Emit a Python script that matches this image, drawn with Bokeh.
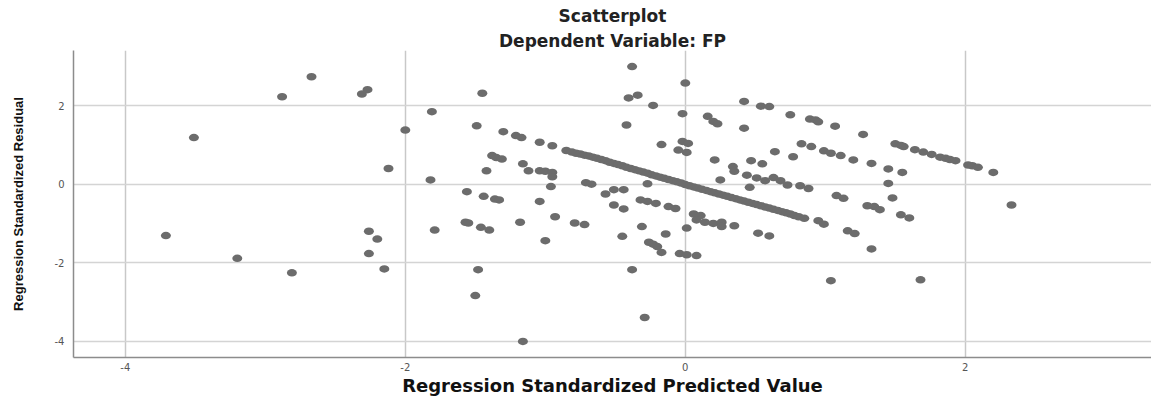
from bokeh.plotting import figure
from bokeh.models import Range1d, FixedTicker, Title, ColumnDataSource
from bokeh.embed import file_html
from bokeh.resources import INLINE

# ---- data ----
title_main = "Scatterplot"
title_sub = "Dependent Variable: FP"
x_label = "Regression Standardized Predicted Value"
y_label = "Regression Standardized Residual"
x_ticks = [-4, -2, 0, 2]
y_ticks = [-4, -2, 0, 2]
x_tick_labels = ["-4", "-2", "0", "2"]
y_tick_labels = ["-4", "-2", "0", "2"]

# far-left sparse points
left_x = [-3.51, -3.71, -2.88, -2.67, -2.31, -2.27, -2.12, -3.20, -2.81, -2.26, -2.20, -2.26, -2.15]
left_y = [1.19, -1.31, 2.23, 2.74, 2.30, 2.41, 0.40, -1.89, -2.26, -1.20, -1.40, -1.77, -2.16]

# main dense diagonal band
band_x = [-0.85, -0.81, -0.78, -0.75, -0.72, -0.69, -0.66, -0.63, -0.60, -0.57, -0.54, -0.51,
          -0.48, -0.45, -0.42, -0.39, -0.36, -0.33, -0.30, -0.27, -0.24, -0.21, -0.18, -0.15,
          -0.12, -0.09, -0.06, -0.03, 0.00, 0.03, 0.06, 0.09, 0.12, 0.15, 0.18, 0.21, 0.24,
          0.27, 0.30, 0.33, 0.36, 0.39, 0.42, 0.45, 0.48, 0.51, 0.54, 0.57, 0.60, 0.63, 0.66,
          0.69, 0.72, 0.75, 0.78, 0.81, 0.85]
band_y = [0.86, 0.82, 0.79, 0.77, 0.74, 0.72, 0.69, 0.66, 0.63, 0.60, 0.56, 0.53,
          0.50, 0.47, 0.43, 0.40, 0.37, 0.34, 0.31, 0.28, 0.24, 0.21, 0.18, 0.15,
          0.12, 0.09, 0.06, 0.03, -0.01, -0.04, -0.07, -0.10, -0.13, -0.16, -0.19, -0.22, -0.25,
          -0.28, -0.31, -0.34, -0.37, -0.40, -0.43, -0.46, -0.49, -0.52, -0.55, -0.58, -0.61, -0.64, -0.67,
          -0.70, -0.73, -0.76, -0.80, -0.83, -0.87]

# upper-right diagonal line
upper_x = [0.42, 0.54, 0.60, 0.75, 0.89, 0.93, 0.95, 1.07, 1.27, 1.50, 1.54, 1.56, 1.64, 1.70,
           1.76, 1.82, 1.86, 1.89, 1.93, 2.02, 2.05, 2.09, 2.20]
upper_y = [2.11, 1.99, 1.98, 1.77, 1.66, 1.64, 1.59, 1.48, 1.27, 1.03, 0.99, 0.96, 0.88, 0.82,
           0.76, 0.69, 0.66, 0.63, 0.60, 0.49, 0.47, 0.43, 0.30]

# right-hand points
right_x = [0.83, 0.90, 0.99, 1.04, 1.11, 1.20, 1.33, 1.45, 1.55, 0.77, 0.64, 0.47, 0.55, 0.34,
           0.35, 0.44, 0.51, 0.57, 0.63, 0.68, 0.73, 0.82, 0.88, 0.25, 0.21, 0.46, 1.45, 1.08,
           1.13, 1.48, 1.30, 1.35, 1.39, 1.54, 1.60, 0.95, 0.99, 1.16, 1.21, 0.52, 0.60, 1.33,
           1.04, 1.68, 2.33]
right_y = [1.03, 0.96, 0.85, 0.79, 0.73, 0.62, 0.53, 0.39, 0.30, 0.70, 0.83, 0.60, 0.52, 0.45,
           0.33, 0.23, 0.16, 0.09, 0.17, 0.09, -0.02, -0.04, -0.11, 0.11, 0.62, -0.08, 0.02, -0.29,
           -0.36, -0.35, -0.55, -0.57, -0.65, -0.78, -0.86, -0.93, -1.02, -1.19, -1.26, -1.25, -1.32, -1.65,
           -2.46, -2.44, -0.53]

# top-centre points
top_x = [-0.38, 0.00, -0.405, -0.34, -0.23, -0.02, 0.16, 0.20, 0.23, 0.42, -0.42, -0.17, -0.02,
         0.02, -0.05, 0.01]
top_y = [3.00, 2.58, 2.20, 2.27, 2.01, 1.80, 1.73, 1.60, 1.54, 1.43, 1.51, 1.01, 1.09,
         1.04, 0.87, 0.81]

# centre-left points
mid_x = [-1.45, -1.81, -2.00, -1.49, -1.30, -1.21, -1.17, -1.04, -0.95, -1.38, -1.35, -1.31,
         -1.42, -1.16, -1.12, -1.04, -1.00, -0.95, -0.95, -1.82, -0.96, -0.71, -0.67, -1.56,
         -0.27, -0.51, -0.44, -0.57]
mid_y = [2.32, 1.85, 1.38, 1.49, 1.34, 1.24, 1.19, 1.07, 0.98, 0.73, 0.68, 0.64,
         0.34, 0.52, 0.34, 0.34, 0.33, 0.30, 0.19, 0.11, -0.06, 0.04, 0.00, -0.19,
         0.01, -0.14, -0.14, -0.25]

# lower points
low_x = [-0.32, -0.27, -0.21, -0.12, -0.07, -0.51, -0.44, 0.06, 0.11, 0.08, 0.14, 0.20, 0.26,
         0.26, 0.35, -0.31, -0.45, -0.14, 0.01, -0.26, -0.23, -0.20, -0.17, -0.04, 0.01, 0.08,
         -0.38, -1.44, -1.36, -1.33, -1.04, -1.57, -1.55, -1.46, -1.40, -1.79, -1.18, -0.93,
         -0.79, -0.72, -1.00, -1.48, -1.50, -1.16, -0.29]
low_y = [-0.40, -0.44, -0.49, -0.57, -0.62, -0.53, -0.63, -0.76, -0.80, -0.91, -0.97, -1.00, -0.97,
         -1.08, -1.06, -1.08, -1.33, -1.27, -1.12, -1.48, -1.53, -1.59, -1.74, -1.77, -1.80, -1.82,
         -2.18, -0.31, -0.38, -0.40, -0.44, -0.97, -0.99, -1.10, -1.17, -1.17, -0.97, -0.83,
         -0.99, -1.03, -1.44, -2.18, -2.84, -4.01, -3.40]

xs = left_x + band_x + upper_x + right_x + top_x + mid_x + low_x
ys = left_y + band_y + upper_y + right_y + top_y + mid_y + low_y
source = ColumnDataSource(data=dict(x=xs, y=ys))

FONT = "DejaVu Sans"

p = figure(width=1151, height=400, output_backend="svg", toolbar_location=None,
           x_range=Range1d(-4.37, 3.33), y_range=Range1d(-4.42, 3.41),
           min_border_left=73, min_border_right=0, min_border_top=50, min_border_bottom=43)
p.outline_line_color = None
p.background_fill_color = "white"
p.border_fill_color = "white"

p.add_layout(Title(text=title_sub, align="center", text_font=FONT, text_font_size="17px",
                   text_font_style="bold", text_color="#222222", standoff=0), "above")
p.add_layout(Title(text=title_main, align="center", text_font=FONT, text_font_size="17px",
                   text_font_style="bold", text_color="#222222", standoff=5), "above")

p.ellipse(x="x", y="y", width=10, height=7.5, width_units="screen", height_units="screen",
          source=source, fill_color="#6c6c6c", line_color=None)

for ax in (p.xaxis[0], p.yaxis[0]):
    ax.axis_line_color = "#8c8c8c"
    ax.axis_line_width = 1.5
    ax.major_tick_line_color = None
    ax.minor_tick_line_color = None
    ax.major_tick_out = 0
    ax.major_tick_in = 0
    ax.minor_tick_out = 0
    ax.minor_tick_in = 0
    ax.major_label_text_font = FONT
    ax.major_label_text_font_size = "10px"
    ax.major_label_text_color = "#555555"
    ax.axis_label_text_font_style = "bold"
    ax.axis_label_text_color = "#111111"

p.xaxis.ticker = FixedTicker(ticks=x_ticks)
p.yaxis.ticker = FixedTicker(ticks=y_ticks)
p.xaxis.major_label_overrides = {t: s for t, s in zip(x_ticks, x_tick_labels)}
p.yaxis.major_label_overrides = {t: s for t, s in zip(y_ticks, y_tick_labels)}
p.xaxis.axis_label = x_label
p.yaxis.axis_label = y_label
p.xaxis.axis_label_text_font = FONT
p.xaxis.axis_label_text_font_size = "18px"
p.yaxis.axis_label_text_font = "Liberation Sans"
p.yaxis.axis_label_text_font_size = "13px"
p.xaxis.major_label_standoff = 5
p.yaxis.major_label_standoff = 9
p.xaxis.axis_label_standoff = 1
p.yaxis.axis_label_standoff = 26

p.xgrid.ticker = FixedTicker(ticks=x_ticks)
p.ygrid.ticker = FixedTicker(ticks=y_ticks)
p.xgrid.grid_line_color = "#c8c8c8"
p.xgrid.grid_line_width = 1.5
p.ygrid.grid_line_color = "#d4d4d4"
p.ygrid.grid_line_width = 1.5

open("out.html", "w").write(file_html(p, INLINE))
